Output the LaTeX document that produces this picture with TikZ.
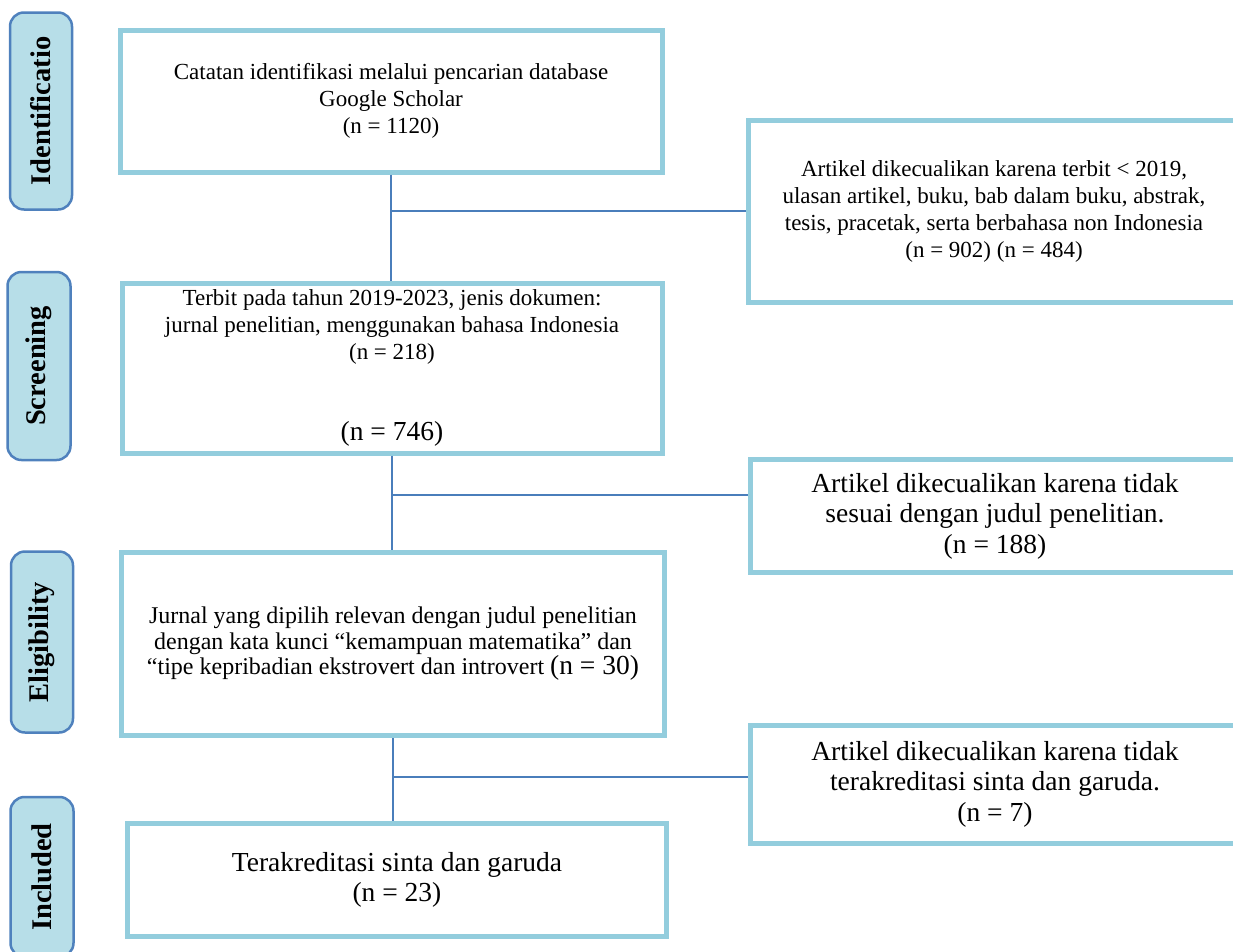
\documentclass[tikz,border=0pt]{standalone}
\usepackage{fontspec}
\setmainfont{Liberation Serif}
\definecolor{boxline}{HTML}{93CDDD}
\definecolor{stagefill}{HTML}{B7DEE8}
\definecolor{stageline}{HTML}{4F81BD}
\definecolor{linkline}{HTML}{4A7EBB}
\newcommand{\smalltxt}{\fontsize{23}{27}\selectfont}
\newcommand{\bigtxt}{\fontsize{27.5}{30.5}\selectfont}

\begin{document}
\begin{tikzpicture}[x=1pt,y=-1pt,
  stage/.style={draw=stageline,line width=2.5pt,fill=stagefill,rounded corners=14pt,rotate=90,inner sep=0pt,font=\fontsize{28.5}{32}\selectfont\bfseries},
  recbox/.style={draw=boxline,line width=5pt,fill=white,align=center,inner sep=0pt,font=\smalltxt},
  link/.style={draw=linkline,line width=1.8pt}]
\useasboundingbox (0,0) rectangle (1233,951);
\clip (0,0) rectangle (1233,951);
% identification
\node[stage,minimum width=197pt,minimum height=62pt] (sid) at (41,111) {Identificatio};
\node[recbox,minimum width=542pt,minimum height=142pt] (b1) at (391,101) {Catatan identifikasi melalui pencarian database\\Google Scholar\\(n = 1120)};
\node[recbox,minimum width=492pt,minimum height=182pt] (e1) at (994,211) {Artikel dikecualikan karena terbit < 2019,\\ulasan artikel, buku, bab dalam buku, abstrak,\\tesis, pracetak, serta berbahasa non Indonesia\\(n = 902) (n = 484)};
% screening
\node[stage,minimum width=188pt,minimum height=63pt] (ssc) at (39,366) {Screening};
\node[recbox,minimum width=540pt,minimum height=170pt] (b2) at (392,368) {Terbit pada tahun 2019-2023, jenis dokumen:\\jurnal penelitian, menggunakan bahasa Indonesia\\(n = 218)\\[54pt]{\bigtxt (n = 746)}};
\node[recbox,minimum width=490pt,minimum height=113pt,font=\bigtxt] (e2) at (995,516) {Artikel dikecualikan karena tidak\\sesuai dengan judul penelitian.\\(n = 188)};
% eligibility
\node[stage,minimum width=181pt,minimum height=62pt] (sel) at (42,642) {Eligibility};
\node[recbox,minimum width=543pt,minimum height=183pt,font=\fontsize{24}{25.5}\selectfont] (b3) at (393,644) {Jurnal yang dipilih relevan dengan judul penelitian\\dengan kata kunci “kemampuan matematika” dan\\“tipe kepribadian ekstrovert dan introvert {\bigtxt (n = 30)}};
\node[recbox,minimum width=490pt,minimum height=118pt,font=\bigtxt] (e3) at (995,784) {Artikel dikecualikan karena tidak\\terakreditasi sinta dan garuda.\\(n = 7)};
% included
\node[stage,minimum width=160pt,minimum height=63pt] (sin) at (42,877) {Included};
\node[recbox,minimum width=539pt,minimum height=113pt,font=\bigtxt] (b4) at (397,880) {Terakreditasi sinta dan garuda\\(n = 23)};
% connectors
\coordinate (j1) at (b1.south |- e1.west);
\coordinate (j2) at (b2.south |- 0,495);
\coordinate (j3) at (b3.south |- 0,777);
\draw[link] (b1.south) -- (b1.south |- b2.north);
\draw[link] (j1) -- (e1.west);
\draw[link] (b2.south) -- (b2.south |- b3.north);
\draw[link] (j2) -- (j2 -| e2.west);
\draw[link] (b3.south) -- (b3.south |- b4.north);
\draw[link] (j3) -- (j3 -| e3.west);
\end{tikzpicture}
\end{document}
